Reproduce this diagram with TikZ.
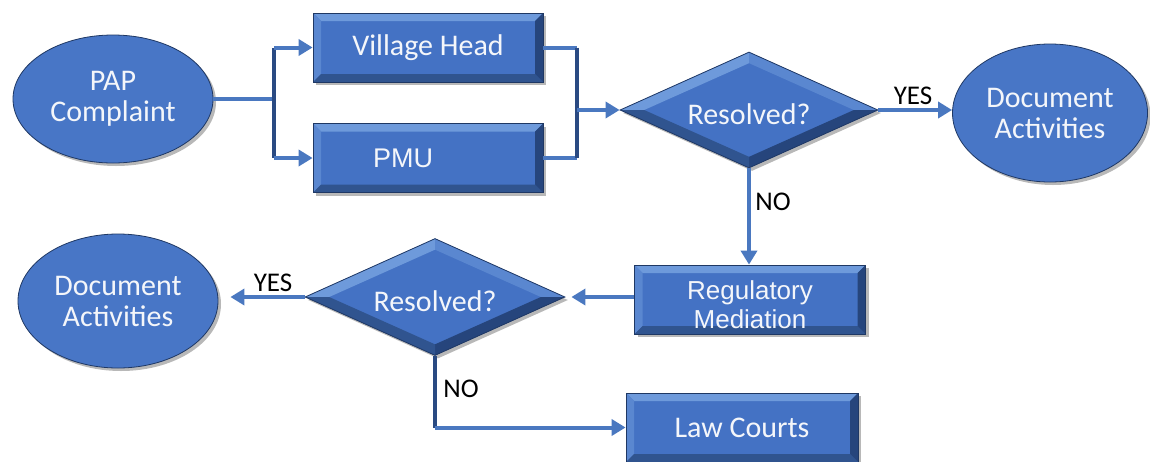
\documentclass[tikz,border=0pt]{standalone}
\usepackage{fontspec}
\setmainfont{Carlito}
\newfontfamily\arialfont{Liberation Sans}
\usetikzlibrary{shapes.geometric, arrows.meta, shadows, calc}

\definecolor{boxfill}{HTML}{4472C4}
\definecolor{boxedge}{HTML}{1F3864}
\definecolor{bevlight}{HTML}{6E9ADB}
\definecolor{bevmid}{HTML}{5A87D0}
\definecolor{bevdark}{HTML}{30548F}
\definecolor{bevdeep}{HTML}{26457C}
\definecolor{ovalmid}{HTML}{4876C6}
\definecolor{ovalrim}{HTML}{3D67B2}
\definecolor{ovaledge}{HTML}{24437A}
\definecolor{wire}{HTML}{4A78C0}
\definecolor{wiredark}{HTML}{2A4A82}
\definecolor{lighttext}{HTML}{F4F6FA}

\pgfdeclareradialshading{ovalshade}{\pgfpoint{0bp}{0bp}}{%
  color(0bp)=(ovalmid); color(36bp)=(ovalmid);
  color(46bp)=(ovalrim); color(50bp)=(ovaledge)}

\tikzset{
  x=0.5pt, y=-0.5pt,
  shapetext/.style={text=lighttext, font=\fontsize{15pt}{15.5pt}\selectfont, align=center},
  softshadow/.style={drop shadow={shadow xshift=1.5pt, shadow yshift=-1.5pt, opacity=0.28, fill=black}},
  % rectangle with a bevelled rim
  bevelbox/.style={shapetext, rectangle, draw=boxedge, line width=0.4pt, fill=boxfill,
    softshadow, inner sep=0pt, minimum width=115pt, minimum height=34.5pt,
    path picture={
      \def\pb{path picture bounding box}
      \fill[bevlight] (\pb.north west) -- (\pb.north east)
        -- ([shift={(-4pt,-4pt)}]\pb.north east) -- ([shift={(4pt,-4pt)}]\pb.north west) -- cycle;
      \fill[bevmid] (\pb.north west) -- ([shift={(4pt,-4pt)}]\pb.north west)
        -- ([shift={(4pt,4pt)}]\pb.south west) -- (\pb.south west) -- cycle;
      \fill[bevdark] (\pb.south west) -- ([shift={(4pt,4pt)}]\pb.south west)
        -- ([shift={(-4pt,4pt)}]\pb.south east) -- (\pb.south east) -- cycle;
      \fill[bevdeep] (\pb.south east) -- ([shift={(-4pt,4pt)}]\pb.south east)
        -- ([shift={(-4pt,-4pt)}]\pb.north east) -- (\pb.north east) -- cycle;
    }},
  % decision diamond with bevelled facets
  bevelgem/.style={shapetext, diamond, aspect=2.2, draw=boxedge, line width=0.4pt, fill=boxfill,
    softshadow, inner sep=0pt, minimum width=129pt, minimum height=58pt, text height=15pt,
    path picture={
      \def\pb{path picture bounding box}
      \fill[bevlight] (\pb.west) -- (\pb.north) -- ([yshift=-5.5pt]\pb.north)
        -- ([xshift=12pt]\pb.west) -- cycle;
      \fill[bevmid] (\pb.north) -- (\pb.east) -- ([xshift=-12pt]\pb.east)
        -- ([yshift=-5.5pt]\pb.north) -- cycle;
      \fill[bevdeep] (\pb.east) -- (\pb.south) -- ([yshift=5.5pt]\pb.south)
        -- ([xshift=-12pt]\pb.east) -- cycle;
      \fill[bevdark] (\pb.south) -- (\pb.west) -- ([xshift=12pt]\pb.west)
        -- ([yshift=5.5pt]\pb.south) -- cycle;
    }},
  % rounded terminal
  oval/.style={shapetext, ellipse, draw=boxedge, line width=0.4pt, shading=ovalshade,
    softshadow, inner sep=0pt, minimum width=100pt, minimum height=64pt},
  wireline/.style={draw=wire, line width=2pt},
  wiredk/.style={draw=wiredark, line width=2pt},
  tip/.style={-{Triangle[length=7pt, width=8pt]}},
  lbl/.style={text=black, font=\fontsize{13.5pt}{14pt}\selectfont, inner sep=0pt},
  arialtext/.style={font=\arialfont\fontsize{13pt}{14.5pt}\selectfont}
}

\begin{document}
\begin{tikzpicture}
\useasboundingbox (0,0) rectangle (1150,461);
\fill[white] (0,0) rectangle (1150,461);

% shapes
\node[oval] (pap) at (113,99) {PAP\\Complaint};
\node[bevelbox] (vh) at (428,47.5) {Village Head};
\node[bevelbox, arialtext, font=\arialfont\fontsize{13.5pt}{14.5pt}\selectfont] (pmu) at (428,158) {PMU\hspace*{25pt}};
\node[bevelgem] (d1) at (749,110) {Resolved?};
\node[oval, minimum width=97.5pt, minimum height=69pt] (doc1) at (1050,113) {Document\\Activities};
\node[bevelbox, arialtext, minimum width=115.5pt] (reg) at (750,299.5) {\rule{0pt}{14.5pt}Regulatory\\Mediation};
\node[bevelgem, minimum width=130pt, minimum height=58.5pt] (d2) at (435,297) {Resolved?};
\node[oval, minimum height=67pt] (doc2) at (118,301) {Document\\Activities};
\node[bevelbox, minimum width=116pt] (law) at (742,427.5) {Law Courts};

% branch points
\coordinate (j1) at (274,0);
\coordinate (j2) at (577,0);

% split from the complaint
\draw[wireline] (pap.east) -- (pap.east -| j1);
\draw[wiredk] (j1 |- vh.west) -- (j1 |- pmu.west);
\draw[wireline, tip] (j1 |- vh.west) -- (vh.west);
\draw[wireline, tip] (j1 |- pmu.west) -- (pmu.west);

% merge into the first decision
\draw[wireline] (vh.east) -- (vh.east -| j2);
\draw[wireline] (pmu.east) -- (pmu.east -| j2);
\draw[wiredk] (vh.east -| j2) -- (pmu.east -| j2);
\draw[wireline, tip] (d1.west -| j2) -- (d1.west);

% outcomes of the first decision
\draw[wireline, tip] (d1.east) -- (d1.east -| doc1.west);
\draw[wireline, tip] (d1.south) -- (d1.south |- reg.north);
\node[lbl] (yes1) at (913,96) {YES};
\node[lbl] (no1) at (773,202) {NO};

% mediation to the second decision
\draw[wireline, tip, shorten >=3pt] (reg.west |- d2.east) -- (d2.east);

% outcomes of the second decision
\draw[wireline, tip, shorten >=6pt] (d2.west) -- (d2.west -| doc2.east);
\coordinate (bend) at (d2.south |- law.west);
\draw[wiredk] (d2.south) -- (bend);
\draw[wireline, tip] (bend) -- (law.west);
\node[lbl] (yes2) at (273,283) {YES};
\node[lbl] (no2) at (461,389) {NO};
\end{tikzpicture}
\end{document}
